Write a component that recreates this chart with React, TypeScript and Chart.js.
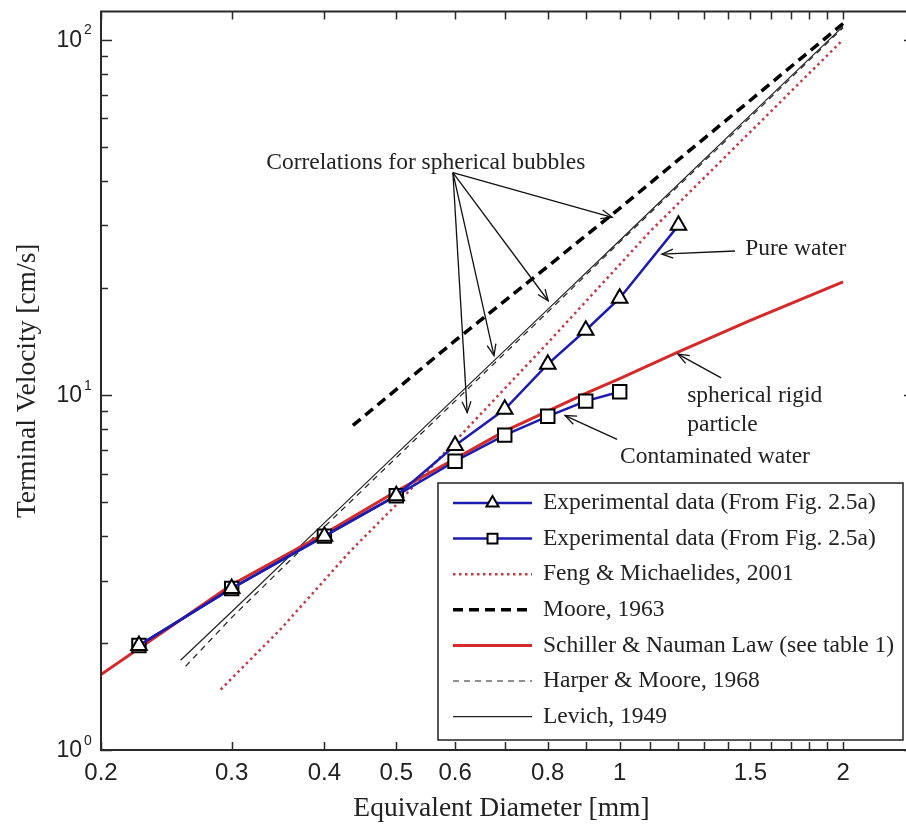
import React, { useEffect, useRef } from 'react';
import { Chart, registerables } from 'chart.js';
import { drawPoint } from 'chart.js/helpers';

Chart.register(...registerables);

// ---- data ----
const pureDiam = [0.225, 0.3, 0.4, 0.5, 0.6, 0.7, 0.8, 0.9, 1.0, 1.2];
const pureVel = [1.97, 2.85, 4.0, 5.2, 7.2, 9.1, 12.2, 15.2, 18.7, 30.0];
const contDiam = [0.225, 0.3, 0.4, 0.5, 0.6, 0.7, 0.8, 0.9, 1.0];
const contVel = [1.97, 2.85, 4.0, 5.2, 6.5, 7.7, 8.7, 9.6, 10.2];
const fengDiam = [0.29, 0.35, 0.433, 0.5, 0.6, 0.8, 1.1, 1.5, 2.0];
const fengVel = [1.48, 2.2, 3.62, 4.9, 7.4, 14.0, 28.9, 55.0, 100.0];
const mooreDiam = [0.437, 0.6, 0.8, 1.0, 1.5, 2.0];
const mooreVel = [8.2, 14.2, 23.0, 33.5, 67.5, 111.0];
const schillerDiam = [0.2, 0.3, 0.4, 0.5, 0.6, 0.7, 0.8, 0.9, 1.0, 1.2, 1.5, 2.0];
const schillerVel = [1.63, 2.92, 4.06, 5.35, 6.6, 7.9, 9.0, 10.1, 11.1, 13.2, 16.2, 20.8];
const harperDiam = [0.26, 0.3, 0.4, 0.6, 0.8, 1.0, 1.5, 2.0];
const harperVel = [1.72, 2.36, 4.25, 9.6, 17.1, 26.9, 60.5, 108.0];
const levichDiam = [0.256, 0.3, 0.4, 0.6, 0.8, 1.0, 1.5, 2.0];
const levichVel = [1.79, 2.45, 4.36, 9.8, 17.4, 27.2, 61.3, 109.0];

const seriesLabels = [
  'Experimental data (From Fig. 2.5a)',
  'Experimental data (From Fig. 2.5a)',
  'Feng & Michaelides, 2001',
  'Moore, 1963',
  'Schiller & Nauman Law (see table 1)',
  'Harper & Moore, 1968',
  'Levich, 1949',
];

const xTickValues = [0.2, 0.3, 0.4, 0.5, 0.6, 0.7, 0.8, 0.9, 1.0, 1.1, 1.2, 1.3, 1.4, 1.5, 1.6, 1.7, 1.8, 1.9, 2.0];
const xTickLabels = ['0.2', '0.3', '0.4', '0.5', '0.6', '', '0.8', '', '1', '', '', '', '', '1.5', '', '', '', '', '2'];
const yTickValues = [1, 2, 3, 4, 5, 6, 7, 8, 9, 10, 20, 30, 40, 50, 60, 70, 80, 90, 100];
const yTickLabels = ['10', '', '', '', '', '', '', '', '', '10', '', '', '', '', '', '', '', '', '10'];
const yTickExponents = ['0', '', '', '', '', '', '', '', '', '1', '', '', '', '', '', '', '', '', '2'];

const xTitle = 'Equivalent Diameter [mm]';
const yTitle = 'Terminal Velocity [cm/s]';

// annotations in data units
const annotationTexts = [
  { text: 'Correlations for spherical bubbles', x: 0.334, y: 45.0 },
  { text: 'Pure water', x: 1.476, y: 25.7 },
  { text: 'spherical rigid', x: 1.233, y: 9.94 },
  { text: 'particle', x: 1.233, y: 8.25 },
  { text: 'Contaminated water', x: 1.001, y: 6.67 },
];
const annotationArrows = [
  { from: [0.596, 42.2], to: [0.977, 31.6] },
  { from: [0.596, 42.2], to: [0.801, 18.4] },
  { from: [0.596, 42.2], to: [0.677, 12.9] },
  { from: [0.596, 42.2], to: [0.623, 8.91] },
  { from: [1.43, 25.4], to: [1.14, 24.9] },
  { from: [1.37, 11.16], to: [1.198, 13.02] },
  { from: [0.992, 7.49], to: [0.844, 8.74] },
];

const SERIF = '"Liberation Serif", "Times New Roman", serif';
const SANS = '"Liberation Sans", Arial, sans-serif';
const TEXT = '#222222';

const pts = (xs: number[], ys: number[]) => xs.map((x, i) => ({ x, y: ys[i] }));

function drawArrow(ctx: CanvasRenderingContext2D, x1: number, y1: number, x2: number, y2: number) {
  ctx.beginPath();
  ctx.moveTo(x1, y1);
  ctx.lineTo(x2, y2);
  ctx.stroke();
  const ang = Math.atan2(y2 - y1, x2 - x1);
  const L = 12;
  const A = 0.38;
  ctx.beginPath();
  ctx.moveTo(x2 - L * Math.cos(ang - A), y2 - L * Math.sin(ang - A));
  ctx.lineTo(x2, y2);
  ctx.lineTo(x2 - L * Math.cos(ang + A), y2 - L * Math.sin(ang + A));
  ctx.stroke();
}

const decorPlugin = {
  id: 'decor',
  afterDatasetsDraw(chart: any) {
    const { ctx, chartArea: a, scales } = chart;
    const xs = scales.x;
    const ys = scales.y;
    ctx.save();

    // frame
    ctx.strokeStyle = '#2a2a2a';
    ctx.lineWidth = 2;
    ctx.setLineDash([]);
    ctx.strokeRect(a.left, a.top, a.right - a.left, a.bottom - a.top);

    // inward ticks
    ctx.lineWidth = 1.5;
    ctx.beginPath();
    xTickValues.forEach((v) => {
      const px = Math.round(xs.getPixelForValue(v)) + 0.5;
      ctx.moveTo(px, a.bottom);
      ctx.lineTo(px, a.bottom - 8);
      ctx.moveTo(px, a.top);
      ctx.lineTo(px, a.top + 8);
    });
    yTickValues.forEach((v, i) => {
      const py = Math.round(ys.getPixelForValue(v)) + 0.5;
      const len = yTickLabels[i] ? 11 : 7;
      ctx.moveTo(a.left, py);
      ctx.lineTo(a.left + len, py);
      ctx.moveTo(a.right, py);
      ctx.lineTo(a.right - len, py);
    });
    ctx.stroke();

    // x tick labels
    ctx.fillStyle = TEXT;
    ctx.font = `24px ${SANS}`;
    ctx.textAlign = 'center';
    ctx.textBaseline = 'middle';
    xTickValues.forEach((v, i) => {
      if (!xTickLabels[i]) return;
      ctx.fillText(xTickLabels[i], xs.getPixelForValue(v), a.bottom + 23);
    });

    // y tick labels: base and exponent
    yTickValues.forEach((v, i) => {
      if (!yTickLabels[i]) return;
      const py = ys.getPixelForValue(v);
      ctx.font = `23px ${SANS}`;
      ctx.textAlign = 'right';
      ctx.textBaseline = 'middle';
      ctx.fillText(yTickLabels[i], a.left - 19, py + 1);
      ctx.font = `14px ${SANS}`;
      ctx.textAlign = 'left';
      ctx.fillText(yTickExponents[i], a.left - 17, py - 9);
    });

    // axis titles
    ctx.font = `27.5px ${SERIF}`;
    ctx.textAlign = 'center';
    ctx.textBaseline = 'alphabetic';
    ctx.fillText(xTitle, 501.5, 816);
    ctx.save();
    ctx.translate(35, (a.top + a.bottom) / 2);
    ctx.rotate(-Math.PI / 2);
    ctx.fillText(yTitle, 0, 0);
    ctx.restore();

    // annotations
    ctx.font = `23.5px ${SERIF}`;
    ctx.textAlign = 'left';
    ctx.textBaseline = 'middle';
    annotationTexts.forEach((t) => {
      ctx.fillText(t.text, xs.getPixelForValue(t.x), ys.getPixelForValue(t.y));
    });
    ctx.strokeStyle = '#111';
    ctx.lineWidth = 1.3;
    annotationArrows.forEach((ar) => {
      drawArrow(
        ctx,
        xs.getPixelForValue(ar.from[0]), ys.getPixelForValue(ar.from[1]),
        xs.getPixelForValue(ar.to[0]), ys.getPixelForValue(ar.to[1])
      );
    });

    // legend box
    const lg = { left: 438, top: 483, right: 903, bottom: 740, row0: 503, rowH: 35.6, l0: 453, l1: 532, tx: 543 };
    ctx.fillStyle = '#ffffff';
    ctx.fillRect(lg.left, lg.top, lg.right - lg.left, lg.bottom - lg.top);
    ctx.strokeStyle = '#222';
    ctx.lineWidth = 1.5;
    ctx.strokeRect(lg.left, lg.top, lg.right - lg.left, lg.bottom - lg.top);
    chart.data.datasets.forEach((ds: any, i: number) => {
      const y = lg.row0 + i * lg.rowH;
      ctx.save();
      ctx.strokeStyle = ds.borderColor;
      ctx.lineWidth = ds.borderWidth;
      ctx.setLineDash(ds.borderDash || []);
      ctx.beginPath();
      ctx.moveTo(lg.l0, y);
      ctx.lineTo(lg.l1, y);
      ctx.stroke();
      ctx.restore();
      if (ds.pointRadius > 0) {
        ctx.save();
        ctx.fillStyle = '#fff';
        ctx.strokeStyle = '#000';
        ctx.lineWidth = 2;
        ctx.setLineDash([]);
        drawPoint(ctx, { pointStyle: ds.pointStyle, radius: 7, borderWidth: 2, rotation: 0 }, (lg.l0 + lg.l1) / 2, y);
        ctx.restore();
      }
      ctx.fillStyle = TEXT;
      ctx.font = `23.5px ${SERIF}`;
      ctx.textAlign = 'left';
      ctx.textBaseline = 'middle';
      ctx.fillText(ds.label, lg.tx, y);
    });

    ctx.restore();
  },
};

export default function App() {
  const ref = useRef<HTMLCanvasElement>(null);

  useEffect(() => {
    if (!ref.current) return;
    const blue = '#1c1cb0';
    const chart = new Chart(ref.current, {
      type: 'line',
      data: {
        datasets: [
          {
            label: seriesLabels[0],
            data: pts(pureDiam, pureVel),
            borderColor: blue,
            borderWidth: 2.5,
            pointStyle: 'triangle',
            pointRadius: 9,
            pointBorderWidth: 2,
            pointBorderColor: '#000',
            pointBackgroundColor: '#fff',
          },
          {
            label: seriesLabels[1],
            data: pts(contDiam, contVel),
            borderColor: blue,
            borderWidth: 2.5,
            pointStyle: 'rect',
            pointRadius: 9.5,
            pointBorderWidth: 2,
            pointBorderColor: '#000',
            pointBackgroundColor: '#fff',
          },
          {
            label: seriesLabels[2],
            data: pts(fengDiam, fengVel),
            borderColor: '#c23a44',
            borderWidth: 2.5,
            borderDash: [2.5, 3.5],
            pointRadius: 0,
          },
          {
            label: seriesLabels[3],
            data: pts(mooreDiam, mooreVel),
            borderColor: '#000',
            borderWidth: 3.5,
            borderDash: [10, 6],
            pointRadius: 0,
          },
          {
            label: seriesLabels[4],
            data: pts(schillerDiam, schillerVel),
            borderColor: '#d42a2a',
            borderWidth: 3,
            pointRadius: 0,
          },
          {
            label: seriesLabels[5],
            data: pts(harperDiam, harperVel),
            borderColor: '#222',
            borderWidth: 1.2,
            borderDash: [6, 5],
            pointRadius: 0,
          },
          {
            label: seriesLabels[6],
            data: pts(levichDiam, levichVel),
            borderColor: '#222',
            borderWidth: 1.2,
            pointRadius: 0,
          },
        ] as any,
      },
      options: {
        animation: false,
        responsive: false,
        maintainAspectRatio: false,
        devicePixelRatio: 1,
        layout: { padding: { left: 101, top: 6, right: 25, bottom: 76 } },
        plugins: { legend: { display: false }, tooltip: { enabled: false } },
        elements: { line: { tension: 0 } },
        scales: {
          x: {
            type: 'logarithmic',
            min: 0.2,
            max: 2.5,
            bounds: 'data',
            display: false,
          },
          y: {
            type: 'logarithmic',
            min: 1,
            max: 120,
            bounds: 'data',
            display: false,
          },
        } as any,
      },
      plugins: [decorPlugin],
    });
    return () => chart.destroy();
  }, []);

  return (
    <div
      style={{
        position: 'absolute',
        left: 0,
        top: 0,
        width: 906,
        height: 826,
        overflow: 'hidden',
        background: '#ffffff',
      }}
    >
      <canvas ref={ref} width={940} height={826} style={{ width: 940, height: 826, display: 'block' }} />
    </div>
  );
}
